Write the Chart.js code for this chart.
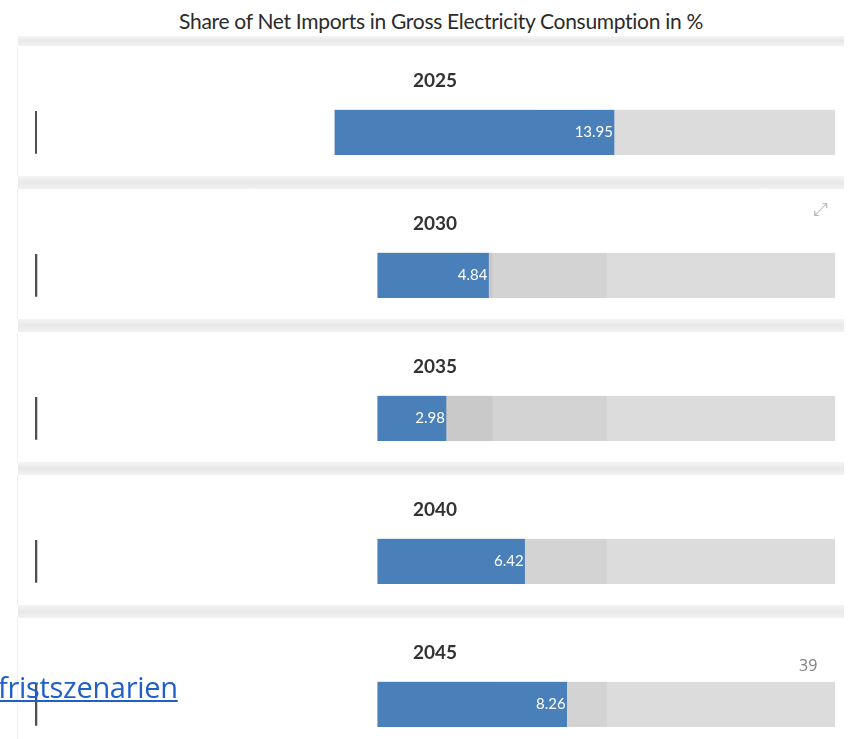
<!DOCTYPE html>
<html>
<head>
<meta charset="utf-8">
<script src="https://cdn.jsdelivr.net/npm/chart.js@4.4.1/dist/chart.umd.min.js"></script>
<style>
  body { margin: 0; background: #fff; font-family: Lato, sans-serif; }
  #page { position: relative; width: 849px; height: 739px; overflow: hidden; }
  #heading { position: absolute; left: 0; width: 882px; top: 8px; text-align: center;
    font-size: 21px; color: #2b2b2b; letter-spacing: -0.3px; }
  .band { position: absolute; left: 18px; width: 826px; height: 13px;
    background: linear-gradient(#f4f4f4, #e8e8e8 50%, #f2f2f2); }
  .panel { position: absolute; left: 17px; width: 825px; height: 130px;
    border-left: 1px solid #f0f0f0; }
  .panel canvas { display: block; }
  #expand { position: absolute; left: 813px; top: 197px; font-size: 18px; color: #b5b5b5; }
  #pageno { position: absolute; left: 799px; top: 654px; font-size: 16px; color: #808080;
    font-family: "Open Sans", sans-serif; }
  #link { position: absolute; left: -2px; top: 667px; font-size: 29px; color: #1f5fc8;
    text-decoration: underline; font-family: "Open Sans", sans-serif; letter-spacing: -0.3px; }
</style>
</head>
<body>
<div id="page">
  <div id="heading">Share of Net Imports in Gross Electricity Consumption in %</div>
  <div id="panels"></div>
  <div id="expand">&#x2922;</div>
  <div id="pageno">39</div>
  <div id="link">fristszenarien</div>
</div>
<script>
'use strict';

// net imports as share of gross electricity consumption, in %
var years = ['2025', '2030', '2035', '2040', '2045'];
var netImports = [13.95, 4.84, 2.98, 6.42, 8.26];

// gauge range for each year
var axisMin = [-15, -15, -15, -15, -15];
var axisMax = [25, 20, 20, 20, 20];

// background step bands (upper bounds, last one runs to axisMax)
var stepBounds = [5, 10];
var stepColors = ['#c9c9c9', '#d3d3d3', '#dcdcdc'];

// thin reference marker at the left end
var markerValues = [-15, -15, -15, -15, -15];

var panelTop = 46;
var panelStep = 143;

var valueLabels = {
  id: 'valueLabels',
  afterDatasetsDraw: function(chart) {
    var bar = chart.getDatasetMeta(0).data[0];
    var ctx = chart.ctx;
    ctx.save();
    ctx.font = '15px Lato';
    ctx.fillStyle = '#ffffff';
    ctx.textAlign = 'right';
    ctx.textBaseline = 'middle';
    ctx.fillText(chart.data.datasets[0].data[0][1].toFixed(2), bar.x - 1, bar.y);
    ctx.restore();
  }
};

var holder = document.getElementById('panels');
var page = document.getElementById('page');

var topBand = document.createElement('div');
topBand.className = 'band';
topBand.style.top = (panelTop - 10) + 'px';
topBand.style.height = '10px';
page.insertBefore(topBand, holder);

years.forEach(function(year, i) {
  var top = panelTop + panelStep * i;

  var box = document.createElement('div');
  box.className = 'panel';
  box.style.top = top + 'px';
  var canvas = document.createElement('canvas');
  canvas.width = 825;
  canvas.height = 130;
  box.appendChild(canvas);
  holder.appendChild(box);

  var band = document.createElement('div');
  band.className = 'band';
  band.style.top = (top + 130) + 'px';
  holder.appendChild(band);

  var edges = [0].concat(stepBounds, [axisMax[i]]);
  var steps = [];
  for (var s = 0; s < edges.length - 1; s++) {
    steps.push({
      data: [[edges[s], edges[s + 1]]],
      backgroundColor: stepColors[s],
      barPercentage: 1,
      categoryPercentage: 1
    });
  }

  new Chart(canvas, {
    type: 'bar',
    data: {
      labels: [year],
      datasets: [{
        data: [[0, netImports[i]]],
        backgroundColor: '#4a80ba',
        barPercentage: 1,
        categoryPercentage: 1
      }, {
        data: [[markerValues[i] - 0.03, markerValues[i] + 0.1]],
        backgroundColor: '#505050',
        barPercentage: 0.95,
        categoryPercentage: 1
      }].concat(steps)
    },
    options: {
      indexAxis: 'y',
      responsive: false,
      animation: false,
      grouped: false,
      layout: { padding: { left: 17, right: 8, bottom: 21 } },
      scales: {
        x: { display: false, min: axisMin[i], max: axisMax[i] },
        y: { display: false }
      },
      plugins: {
        legend: { display: false },
        tooltip: { enabled: false },
        title: {
          display: true,
          text: year,
          color: '#333333',
          font: { family: 'Lato', size: 19, weight: 'bold' },
          padding: { top: 23, bottom: 18 }
        }
      }
    },
    plugins: [valueLabels]
  });
});
</script>
</body>
</html>
